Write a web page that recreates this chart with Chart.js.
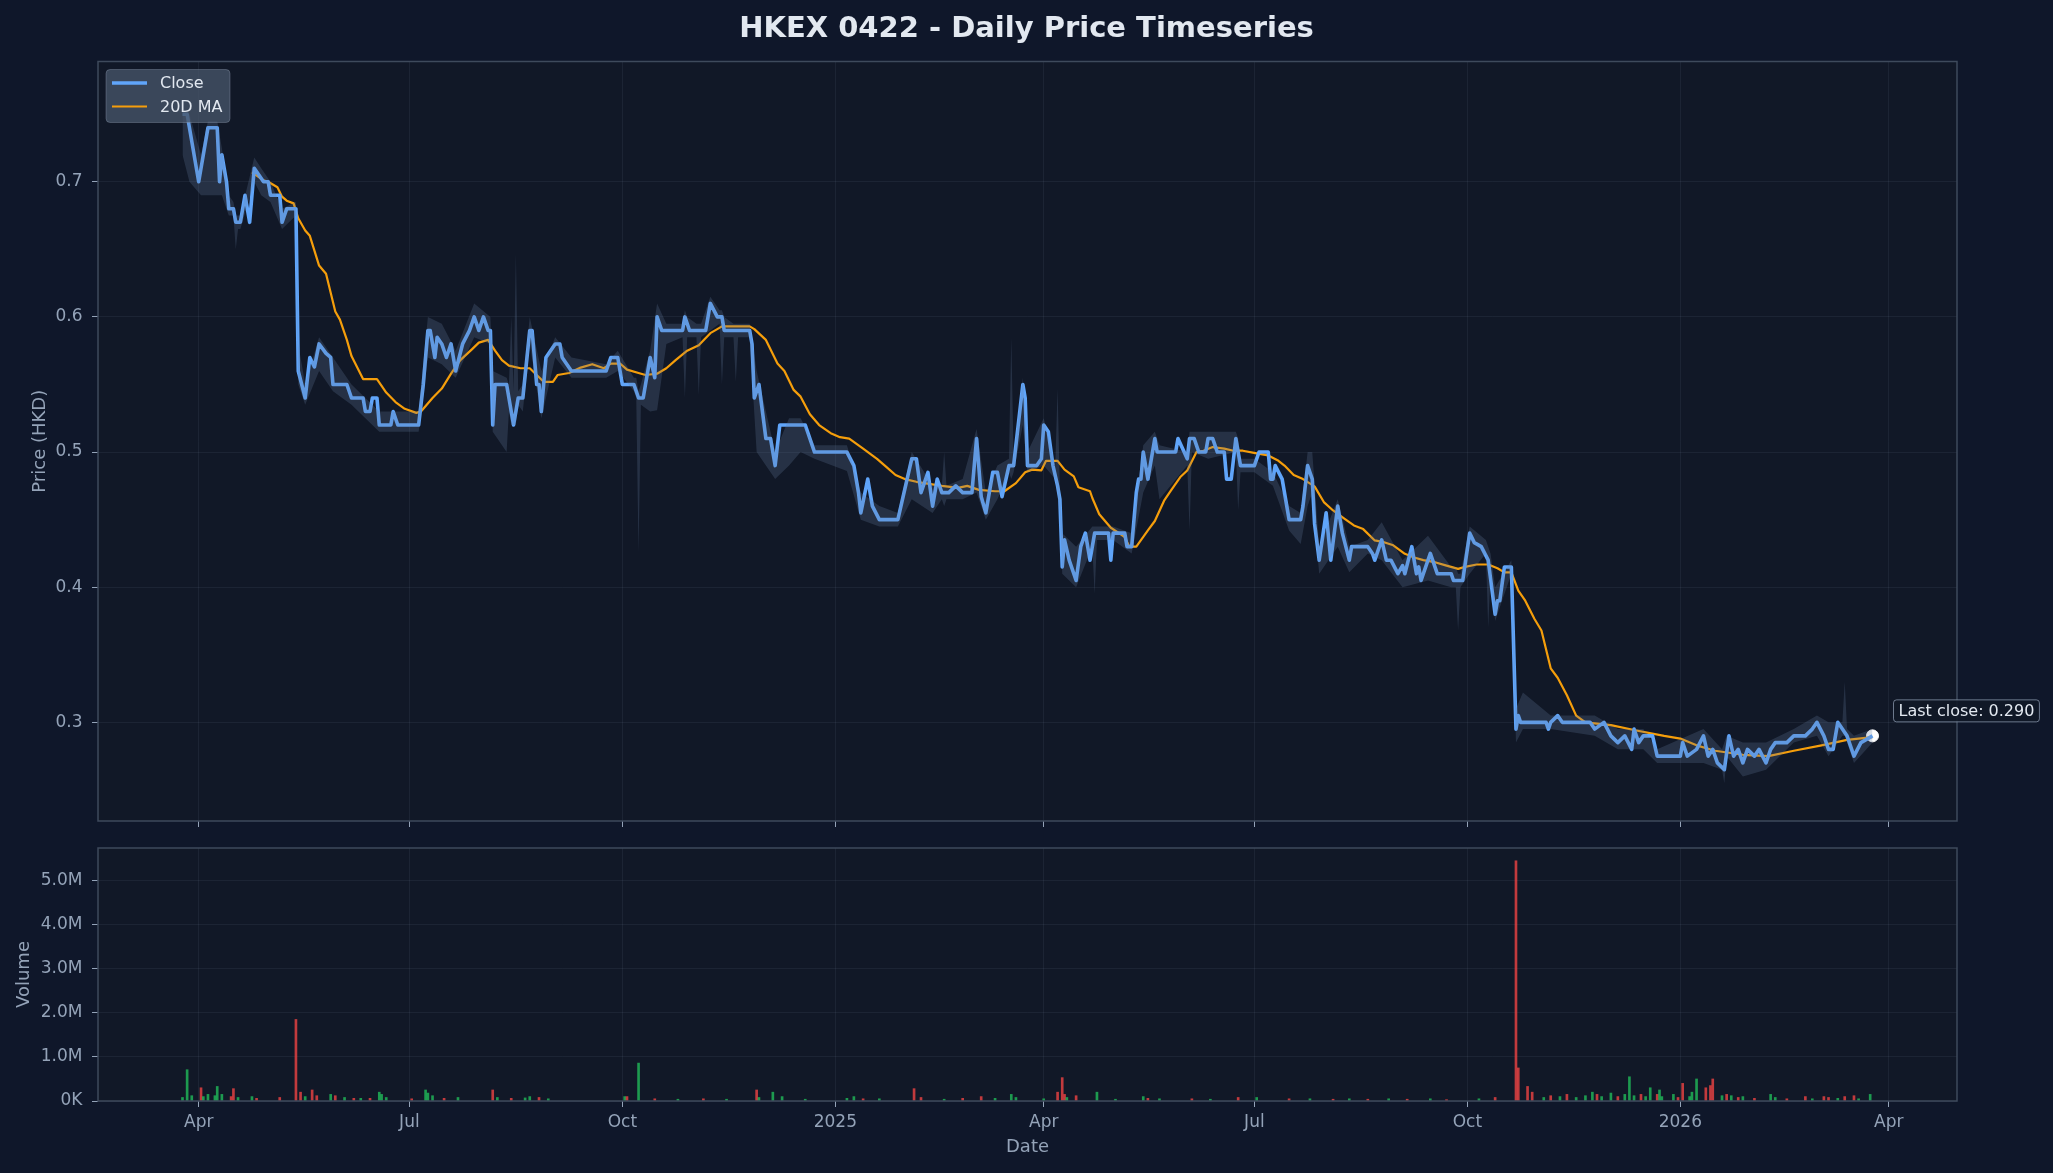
<!DOCTYPE html>
<html>
<head>
<meta charset="utf-8">
<title>HKEX 0422 - Daily Price Timeseries</title>
<script src="https://cdn.jsdelivr.net/npm/chart.js@4.4.1/dist/chart.umd.min.js"></script>
<style>
  html, body { margin: 0; padding: 0; background: #0f172a; }
  #wrap { position: relative; width: 2053px; height: 1173px; }
  canvas { position: absolute; left: 0; }
  #price { top: 0; }
  #volume { top: 835px; }
</style>
</head>
<body>
<div id="wrap">
  <canvas id="price" width="2053" height="835"></canvas>
  <canvas id="volume" width="2053" height="338"></canvas>
</div>
<script>
// close price, read at the corners of the line
const closeDates = [
  '2024-03-25','2024-03-27','2024-04-01','2024-04-05','2024-04-09','2024-04-10','2024-04-11','2024-04-13','2024-04-14','2024-04-16','2024-04-17','2024-04-19','2024-04-21','2024-04-23','2024-04-25','2024-04-27','2024-04-29',
  '2024-05-01','2024-05-02','2024-05-06','2024-05-07','2024-05-09','2024-05-13','2024-05-14','2024-05-17','2024-05-19','2024-05-21','2024-05-23','2024-05-26','2024-05-28','2024-05-29',
  '2024-06-04','2024-06-06','2024-06-11','2024-06-12','2024-06-14','2024-06-15','2024-06-17','2024-06-18','2024-06-23','2024-06-24','2024-06-26',
  '2024-07-05','2024-07-07','2024-07-09','2024-07-10','2024-07-12','2024-07-13','2024-07-15','2024-07-17','2024-07-19','2024-07-21','2024-07-24','2024-07-27','2024-07-29','2024-07-31',
  '2024-08-02','2024-08-04','2024-08-05','2024-08-06','2024-08-07','2024-08-12','2024-08-15','2024-08-17','2024-08-19','2024-08-22','2024-08-23','2024-08-25','2024-08-26','2024-08-27','2024-08-29',
  '2024-09-02','2024-09-04','2024-09-05','2024-09-09','2024-09-24','2024-09-26','2024-09-29',
  '2024-10-01','2024-10-06','2024-10-08','2024-10-10','2024-10-13','2024-10-15','2024-10-16','2024-10-18','2024-10-27','2024-10-28','2024-10-30',
  '2024-11-06','2024-11-08','2024-11-11','2024-11-13','2024-11-14','2024-11-25','2024-11-26','2024-11-27','2024-11-29',
  '2024-12-02','2024-12-04','2024-12-06','2024-12-08','2024-12-19','2024-12-23',
  '2025-01-06','2025-01-09','2025-01-11','2025-01-12','2025-01-15','2025-01-17','2025-01-20','2025-01-28',
  '2025-02-01','2025-02-03','2025-02-05','2025-02-07','2025-02-10','2025-02-12','2025-02-14','2025-02-16','2025-02-19','2025-02-22','2025-02-25',
  '2025-03-01','2025-03-03','2025-03-05','2025-03-07','2025-03-10','2025-03-12','2025-03-14','2025-03-17','2025-03-19','2025-03-23','2025-03-24','2025-03-25','2025-03-29','2025-03-31',
  '2025-04-01','2025-04-03','2025-04-05','2025-04-07','2025-04-08','2025-04-09','2025-04-10','2025-04-12','2025-04-15','2025-04-17','2025-04-19','2025-04-21','2025-04-23','2025-04-29','2025-04-30',
  '2025-05-01','2025-05-06','2025-05-07','2025-05-09','2025-05-11','2025-05-12','2025-05-13','2025-05-14','2025-05-16','2025-05-19','2025-05-20','2025-05-28','2025-05-29',
  '2025-06-02','2025-06-03','2025-06-05','2025-06-07','2025-06-10','2025-06-11','2025-06-13','2025-06-15','2025-06-18','2025-06-19','2025-06-21','2025-06-23','2025-06-25',
  '2025-07-01','2025-07-03','2025-07-07','2025-07-08','2025-07-09','2025-07-10','2025-07-13','2025-07-16','2025-07-21','2025-07-22','2025-07-24','2025-07-26','2025-07-27','2025-07-29',
  '2025-08-01','2025-08-03','2025-08-06','2025-08-08','2025-08-11','2025-08-12','2025-08-19','2025-08-21','2025-08-22','2025-08-25','2025-08-27','2025-08-29',
  '2025-09-01','2025-09-03','2025-09-04','2025-09-07','2025-09-09','2025-09-10','2025-09-11','2025-09-15','2025-09-18','2025-09-24','2025-09-25','2025-09-29',
  '2025-10-02','2025-10-04','2025-10-07','2025-10-10','2025-10-13','2025-10-14','2025-10-15','2025-10-17','2025-10-20','2025-10-22','2025-10-23','2025-10-24',
  '2025-11-04','2025-11-05','2025-11-06','2025-11-09','2025-11-11','2025-11-23','2025-11-25','2025-11-29',
  '2025-12-02','2025-12-05','2025-12-08','2025-12-11','2025-12-12','2025-12-14','2025-12-16','2025-12-20','2025-12-22',
  '2026-01-01','2026-01-02','2026-01-04','2026-01-08','2026-01-11','2026-01-13','2026-01-15','2026-01-17','2026-01-20','2026-01-22','2026-01-24','2026-01-26','2026-01-28','2026-01-30',
  '2026-02-02','2026-02-04','2026-02-07','2026-02-09','2026-02-11','2026-02-16','2026-02-19','2026-02-24','2026-02-27',
  '2026-03-01','2026-03-04','2026-03-06','2026-03-08','2026-03-10','2026-03-12','2026-03-14','2026-03-17','2026-03-20','2026-03-25'
];
const closeValues = [
  0.75,0.75,0.70,0.74,0.74,0.70,0.72,0.70,0.68,0.68,0.67,0.67,0.69,0.67,0.71,0.705,0.70,
  0.70,0.69,0.69,0.67,0.68,0.68,0.56,0.54,0.57,0.563,0.58,0.573,0.57,0.55,
  0.55,0.54,0.54,0.53,0.53,0.54,0.54,0.52,0.52,0.53,0.52,
  0.52,0.55,0.59,0.59,0.57,0.585,0.58,0.57,0.58,0.56,0.58,0.59,0.60,0.59,
  0.60,0.59,0.59,0.52,0.55,0.55,0.52,0.54,0.54,0.59,0.59,0.55,0.55,0.53,0.57,
  0.58,0.58,0.57,0.56,0.56,0.57,0.57,
  0.55,0.55,0.54,0.54,0.57,0.555,0.60,0.59,0.59,0.60,0.59,
  0.59,0.61,0.60,0.60,0.59,0.59,0.58,0.54,0.55,
  0.51,0.51,0.49,0.52,0.52,0.50,
  0.50,0.49,0.47,0.455,0.48,0.46,0.45,0.45,
  0.48,0.495,0.495,0.47,0.485,0.46,0.48,0.47,0.47,0.475,0.47,
  0.47,0.51,0.467,0.455,0.485,0.485,0.467,0.49,0.49,0.55,0.54,0.49,0.49,0.495,
  0.52,0.515,0.49,0.475,0.465,0.415,0.435,0.42,0.405,0.43,0.44,0.42,0.44,0.44,0.42,
  0.44,0.44,0.43,0.43,0.47,0.48,0.48,0.50,0.48,0.51,0.50,0.50,0.51,
  0.495,0.51,0.51,0.50,0.50,0.51,0.51,0.50,0.50,0.48,0.48,0.51,0.49,
  0.49,0.50,0.50,0.48,0.48,0.49,0.48,0.45,0.45,0.46,0.49,0.48,0.447,0.42,
  0.455,0.42,0.46,0.44,0.42,0.43,0.43,0.425,0.42,0.435,0.42,0.42,
  0.41,0.416,0.41,0.43,0.41,0.415,0.405,0.425,0.41,0.41,0.405,0.405,
  0.44,0.433,0.43,0.42,0.38,0.39,0.39,0.415,0.415,0.295,0.305,0.30,
  0.30,0.295,0.30,0.305,0.30,0.30,0.295,0.30,
  0.29,0.285,0.29,0.28,0.295,0.285,0.29,0.29,0.275,
  0.275,0.285,0.275,0.28,0.29,0.275,0.28,0.27,0.265,0.29,0.275,0.28,0.27,0.28,
  0.275,0.28,0.27,0.28,0.285,0.285,0.29,0.29,0.295,
  0.30,0.29,0.28,0.28,0.30,0.295,0.29,0.275,0.285,0.29
];

// 20-day moving average
const maDates = [
  '2024-04-24','2024-04-29','2024-05-01','2024-05-05','2024-05-07','2024-05-09','2024-05-12','2024-05-14','2024-05-17','2024-05-19','2024-05-23','2024-05-26','2024-05-30',
  '2024-06-01','2024-06-04','2024-06-06','2024-06-11','2024-06-17','2024-06-21','2024-06-25','2024-06-29',
  '2024-07-04','2024-07-06','2024-07-11','2024-07-15','2024-07-19','2024-07-23','2024-07-28','2024-07-31',
  '2024-08-04','2024-08-07','2024-08-10','2024-08-13','2024-08-18','2024-08-22','2024-08-25','2024-08-28',
  '2024-09-01','2024-09-03','2024-09-08','2024-09-13','2024-09-18','2024-09-23','2024-09-26','2024-09-30',
  '2024-10-03','2024-10-08','2024-10-11','2024-10-16','2024-10-20','2024-10-24','2024-10-29',
  '2024-11-03','2024-11-08','2024-11-11','2024-11-13','2024-11-25','2024-11-27',
  '2024-12-02','2024-12-07','2024-12-10','2024-12-14','2024-12-17','2024-12-21','2024-12-25','2024-12-30',
  '2025-01-03','2025-01-07','2025-01-13','2025-01-19','2025-01-23','2025-01-27','2025-01-31',
  '2025-02-05','2025-02-16','2025-02-23','2025-02-27',
  '2025-03-04','2025-03-11','2025-03-15','2025-03-20','2025-03-24','2025-03-27','2025-03-31',
  '2025-04-02','2025-04-07','2025-04-10','2025-04-14','2025-04-16','2025-04-21','2025-04-22','2025-04-25','2025-04-30',
  '2025-05-04','2025-05-06','2025-05-08','2025-05-11','2025-05-16','2025-05-19','2025-05-23','2025-05-26','2025-05-30',
  '2025-06-02','2025-06-06','2025-06-09','2025-06-13','2025-06-18','2025-06-22','2025-06-26',
  '2025-07-02','2025-07-07','2025-07-11','2025-07-14','2025-07-18','2025-07-22','2025-07-27','2025-07-31',
  '2025-08-04','2025-08-09','2025-08-13','2025-08-17','2025-08-22','2025-08-26','2025-08-30',
  '2025-09-04','2025-09-08','2025-09-12','2025-09-17','2025-09-22','2025-09-27','2025-09-30',
  '2025-10-05','2025-10-10','2025-10-14','2025-10-17','2025-10-20','2025-10-23','2025-10-26','2025-10-30',
  '2025-11-02','2025-11-06','2025-11-09','2025-11-13','2025-11-17','2025-11-21',
  '2025-12-02','2025-12-13','2025-12-25',
  '2026-01-01','2026-01-08','2026-01-16','2026-01-28','2026-02-08','2026-02-19','2026-03-03','2026-03-14','2026-03-25'
];
const maValues = [
  0.707,0.701,0.700,0.696,0.689,0.686,0.684,0.673,0.664,0.660,0.638,0.632,0.604,
  0.598,0.583,0.571,0.554,0.554,0.544,0.537,0.532,
  0.529,0.530,0.540,0.547,0.558,0.568,0.576,0.581,
  0.583,0.575,0.568,0.564,0.562,0.562,0.557,0.552,
  0.552,0.557,0.5585,0.5625,0.565,0.562,0.5655,0.5655,
  0.561,0.5585,0.557,0.558,0.562,0.568,0.575,
  0.579,0.588,0.591,0.593,0.593,0.591,
  0.583,0.5655,0.560,0.546,0.541,0.528,0.520,0.514,
  0.511,0.510,0.5025,0.495,0.489,0.483,0.480,
  0.478,0.475,0.4735,0.475,
  0.472,0.471,0.471,0.477,0.485,0.487,0.4865,
  0.4935,0.4935,0.487,0.482,0.474,0.471,0.466,0.454,0.444,
  0.4395,0.437,0.430,0.430,0.442,0.449,0.464,0.4716,0.4815,
  0.4864,0.500,0.501,0.5037,0.5025,0.501,0.501,
  0.499,0.4975,0.494,0.490,0.483,0.480,0.4746,0.463,
  0.4568,0.4506,0.4457,0.443,0.4346,0.4333,0.431,
  0.4247,0.422,0.420,0.4185,0.416,0.4136,0.415,
  0.4168,0.4168,0.414,0.411,0.411,0.3975,0.390,0.3765,
  0.368,0.340,0.333,0.320,0.305,0.300,
  0.298,0.294,0.290,
  0.288,0.283,0.279,0.276,0.275,0.279,0.283,0.287,0.289
];

// daily high / low envelope (shaded band)
const bandDates = [
  '2024-03-25','2024-03-28','2024-04-02','2024-04-05','2024-04-09','2024-04-11','2024-04-14','2024-04-16','2024-04-17','2024-04-18','2024-04-19','2024-04-25','2024-04-28',
  '2024-05-02','2024-05-07','2024-05-13','2024-05-14','2024-05-17','2024-05-23','2024-05-29',
  '2024-06-06','2024-06-12','2024-06-18','2024-06-26','2024-07-05','2024-07-09','2024-07-15','2024-07-21','2024-07-29',
  '2024-08-05','2024-08-06','2024-08-12','2024-08-13','2024-08-14','2024-08-15','2024-08-16','2024-08-17','2024-08-19','2024-08-22','2024-08-27',
  '2024-09-02','2024-09-09','2024-09-24','2024-09-29',
  '2024-10-06','2024-10-07','2024-10-08','2024-10-09','2024-10-13','2024-10-16','2024-10-20','2024-10-27','2024-10-28','2024-10-29',
  '2024-11-02','2024-11-03','2024-11-04','2024-11-08','2024-11-12','2024-11-13','2024-11-14','2024-11-18','2024-11-19','2024-11-20','2024-11-25','2024-11-28',
  '2024-12-06','2024-12-12','2024-12-17','2024-12-23',
  '2025-01-06','2025-01-12','2025-01-20','2025-01-28',
  '2025-02-03','2025-02-12','2025-02-16','2025-02-17','2025-02-18','2025-02-25',
  '2025-03-03','2025-03-07','2025-03-12','2025-03-17','2025-03-18','2025-03-19','2025-03-23','2025-03-25',
  '2025-04-01','2025-04-06','2025-04-07','2025-04-08','2025-04-09','2025-04-15','2025-04-22','2025-04-23','2025-04-24',
  '2025-05-01','2025-05-09','2025-05-14','2025-05-19','2025-05-21',
  '2025-06-02','2025-06-03','2025-06-04','2025-06-11','2025-06-23','2025-06-24','2025-06-25',
  '2025-07-01','2025-07-09','2025-07-16','2025-07-21','2025-07-24','2025-07-26','2025-07-29',
  '2025-08-06','2025-08-11','2025-08-19','2025-08-25',
  '2025-09-03','2025-09-14','2025-09-24','2025-09-26','2025-09-27','2025-09-28',
  '2025-10-02','2025-10-09','2025-10-10','2025-10-11','2025-10-13','2025-10-20','2025-10-22','2025-10-25',
  '2025-11-06','2025-11-25','2025-12-05','2025-12-16','2025-12-22',
  '2026-01-11','2026-01-19','2026-01-20','2026-01-21','2026-01-28','2026-02-07','2026-02-19',
  '2026-03-01','2026-03-06','2026-03-12','2026-03-13','2026-03-14','2026-03-17','2026-03-25'
];
const bandHigh = [
  0.755,0.75,0.72,0.745,0.745,0.725,0.69,0.685,0.675,0.675,0.675,0.718,0.71,
  0.70,0.68,0.685,0.58,0.55,0.585,0.57,
  0.55,0.54,0.53,0.53,0.53,0.60,0.595,0.575,0.61,
  0.60,0.56,0.555,0.55,0.60,0.545,0.647,0.545,0.55,0.60,0.56,
  0.585,0.57,0.565,0.575,
  0.555,0.555,0.545,0.55,0.575,0.61,0.595,0.595,0.605,0.60,
  0.595,0.595,0.595,0.615,0.605,0.605,0.60,0.595,0.595,0.595,0.595,0.56,
  0.50,0.525,0.525,0.505,
  0.505,0.47,0.46,0.455,
  0.50,0.475,0.475,0.50,0.475,0.48,
  0.517,0.47,0.49,0.495,0.585,0.495,0.555,0.50,
  0.525,0.49,0.547,0.47,0.44,0.43,0.445,0.445,0.445,
  0.445,0.44,0.505,0.515,0.505,
  0.50,0.515,0.515,0.515,0.515,0.51,0.495,
  0.495,0.485,0.46,0.455,0.50,0.50,0.43,
  0.465,0.43,0.435,0.448,
  0.42,0.438,0.415,0.415,0.41,0.41,
  0.445,0.435,0.43,0.425,0.40,0.42,0.31,0.322,
  0.305,0.305,0.295,0.295,0.28,
  0.295,0.28,0.285,0.29,0.285,0.285,0.295,
  0.305,0.30,0.30,0.33,0.295,0.29,0.295
];
const bandLow = [
  0.72,0.70,0.69,0.69,0.69,0.69,0.675,0.675,0.65,0.665,0.665,0.70,0.69,
  0.685,0.665,0.675,0.55,0.535,0.56,0.545,
  0.535,0.525,0.515,0.515,0.515,0.57,0.565,0.555,0.585,
  0.58,0.515,0.50,0.53,0.52,0.52,0.52,0.535,0.53,0.58,0.525,
  0.57,0.555,0.555,0.56,
  0.545,0.54,0.425,0.535,0.53,0.531,0.58,0.585,0.54,0.585,
  0.585,0.542,0.585,0.59,0.595,0.55,0.585,0.585,0.552,0.585,0.585,0.50,
  0.48,0.49,0.50,0.495,
  0.486,0.45,0.445,0.445,
  0.465,0.455,0.465,0.46,0.465,0.465,
  0.47,0.45,0.465,0.485,0.48,0.485,0.52,0.485,
  0.49,0.48,0.47,0.455,0.41,0.40,0.43,0.395,0.435,
  0.435,0.425,0.47,0.49,0.465,
  0.49,0.442,0.50,0.495,0.50,0.457,0.485,
  0.485,0.475,0.442,0.432,0.46,0.47,0.41,
  0.43,0.411,0.425,0.42,
  0.40,0.405,0.40,0.40,0.368,0.40,
  0.41,0.425,0.37,0.41,0.375,0.41,0.285,0.295,
  0.295,0.29,0.28,0.28,0.27,
  0.27,0.265,0.255,0.275,0.26,0.265,0.285,
  0.29,0.275,0.29,0.29,0.285,0.27,0.285
];

// daily volume bars (shares) and whether the day closed up
const volDates = [
  '2024-03-25','2024-03-27','2024-03-29','2024-04-02','2024-04-03','2024-04-05','2024-04-08','2024-04-09','2024-04-11','2024-04-15','2024-04-16','2024-04-18','2024-04-24','2024-04-26',
  '2024-05-06','2024-05-13','2024-05-15','2024-05-17','2024-05-20','2024-05-22','2024-05-28','2024-05-30',
  '2024-06-03','2024-06-07','2024-06-10','2024-06-14','2024-06-18','2024-06-19','2024-06-21',
  '2024-07-02','2024-07-08','2024-07-09','2024-07-11','2024-07-16','2024-07-22',
  '2024-08-06','2024-08-08','2024-08-14','2024-08-20','2024-08-22','2024-08-26','2024-08-30',
  '2024-10-02','2024-10-03','2024-10-08','2024-10-15','2024-10-25','2024-11-05','2024-11-15','2024-11-28','2024-11-29',
  '2024-12-05','2024-12-09','2024-12-19',
  '2025-01-06','2025-01-09','2025-01-13','2025-01-20','2025-02-04','2025-02-07','2025-02-17','2025-02-25',
  '2025-03-05','2025-03-11','2025-03-18','2025-03-20',
  '2025-04-01','2025-04-07','2025-04-09','2025-04-10','2025-04-11','2025-04-15','2025-04-24',
  '2025-05-02','2025-05-14','2025-05-16','2025-05-21','2025-06-04','2025-06-12','2025-06-24',
  '2025-07-02','2025-07-16','2025-07-25','2025-08-04','2025-08-11','2025-08-19','2025-08-28',
  '2025-09-05','2025-09-15','2025-09-22','2025-10-06','2025-10-13','2025-10-22','2025-10-23','2025-10-27','2025-10-29',
  '2025-11-03','2025-11-06','2025-11-10','2025-11-13','2025-11-17','2025-11-21','2025-11-24','2025-11-26','2025-11-28',
  '2025-12-02','2025-12-05','2025-12-08','2025-12-10','2025-12-12','2025-12-15','2025-12-17','2025-12-19','2025-12-22','2025-12-23','2025-12-24','2025-12-29','2025-12-31',
  '2026-01-02','2026-01-05','2026-01-06','2026-01-08','2026-01-12','2026-01-14','2026-01-15','2026-01-19','2026-01-21','2026-01-23','2026-01-26','2026-01-28',
  '2026-02-02','2026-02-09','2026-02-11','2026-02-16','2026-02-24','2026-02-27',
  '2026-03-04','2026-03-06','2026-03-10','2026-03-13','2026-03-17','2026-03-19','2026-03-24'
];
const volValues = [
  80000,710000,120000,300000,100000,150000,120000,330000,150000,100000,280000,80000,100000,60000,
  80000,1850000,200000,100000,250000,120000,150000,120000,
  80000,60000,60000,60000,200000,150000,80000,
  50000,250000,180000,120000,60000,80000,
  250000,80000,60000,70000,100000,80000,50000,
  100000,100000,860000,50000,40000,50000,40000,250000,80000,
  200000,100000,40000,
  60000,100000,50000,50000,280000,80000,40000,60000,
  100000,60000,150000,80000,
  50000,200000,530000,150000,80000,120000,200000,
  40000,100000,60000,50000,50000,40000,80000,
  80000,50000,50000,40000,50000,40000,50000,
  40000,50000,30000,50000,80000,5450000,750000,330000,200000,
  80000,120000,100000,150000,80000,120000,200000,150000,100000,
  180000,100000,150000,550000,120000,150000,100000,300000,150000,250000,100000,150000,80000,
  400000,100000,200000,500000,300000,350000,500000,120000,150000,120000,80000,100000,
  60000,150000,80000,50000,100000,50000,
  100000,80000,60000,100000,120000,50000,150000
];
const volUp = [
  1,1,1,0,1,1,1,1,1,0,0,1,1,0,
  0,0,0,1,0,0,1,0,
  1,0,1,0,1,1,1,
  0,1,1,1,0,1,
  0,1,0,1,1,0,1,
  1,0,1,0,1,0,1,0,1,
  1,1,1,
  1,1,0,1,0,0,1,0,
  0,1,1,1,
  1,0,0,0,1,0,1,
  1,1,0,1,0,1,0,
  1,0,1,0,1,0,1,
  0,1,0,1,0,0,0,0,0,
  1,0,1,0,1,1,1,0,1,
  1,0,1,1,1,0,1,1,0,1,1,1,0,
  0,1,1,1,0,0,0,1,0,1,0,1,
  0,1,1,0,0,1,
  0,0,1,0,0,1,1
];

const tickDates = ['2024-04-01','2024-07-01','2024-10-01','2025-01-01','2025-04-01','2025-07-01','2025-10-01','2026-01-01','2026-04-01'];
const tickLabels = ['Apr','Jul','Oct','2025','Apr','Jul','Oct','2026','Apr'];
const priceTicks = [0.3, 0.4, 0.5, 0.6, 0.7];
const volumeTicks = [0, 1e6, 2e6, 3e6, 4e6, 5e6];

const day = s => Date.UTC(+s.slice(0, 4), +s.slice(5, 7) - 1, +s.slice(8, 10)) / 864e5;
const pts = (ds, vs) => ds.map((d, i) => ({ x: day(d), y: vs[i] }));

const x0 = day(closeDates[0]);
const x1 = day(closeDates[closeDates.length - 1]);
const xPad = (x1 - x0) * 0.05;
const lastClose = closeValues[closeValues.length - 1];

const C = {
  fig: '#0f172a', ax: '#111827', spine: '#3e4a5c', grid: 'rgba(148,163,184,0.09)',
  tick: '#94a3b8', text: '#e2e8f0', close: '#60a5fa', ma: '#f59e0b',
  band: 'rgba(100,125,160,0.26)', up: 'rgba(34,197,94,0.75)', down: 'rgba(239,68,68,0.8)'
};

Chart.defaults.font.family = "'DejaVu Sans', sans-serif";
Chart.defaults.color = C.tick;

const frame = {
  id: 'frame',
  beforeDraw(c) {
    const { ctx, chartArea: a } = c;
    ctx.save();
    ctx.fillStyle = C.fig;
    ctx.fillRect(0, 0, c.width, c.height);
    ctx.fillStyle = C.ax;
    ctx.fillRect(a.left, a.top, a.right - a.left, a.bottom - a.top);
    ctx.restore();
  },
  afterDraw(c) {
    const { ctx, chartArea: a } = c;
    ctx.save();
    ctx.strokeStyle = C.spine;
    ctx.lineWidth = 1.5;
    ctx.strokeRect(a.left, a.top, a.right - a.left, a.bottom - a.top);
    ctx.restore();
  }
};

function rrect(ctx, x, y, w, h, r) {
  ctx.beginPath();
  ctx.moveTo(x + r, y);
  ctx.arcTo(x + w, y, x + w, y + h, r);
  ctx.arcTo(x + w, y + h, x, y + h, r);
  ctx.arcTo(x, y + h, x, y, r);
  ctx.arcTo(x, y, x + w, y, r);
  ctx.closePath();
}

const legendBox = {
  id: 'legendBox',
  afterDraw(c) {
    const { ctx, chartArea: a } = c;
    const x = a.left + 8, y = a.top + 8;
    ctx.save();
    rrect(ctx, x, y, 124, 53, 4);
    ctx.fillStyle = 'rgba(71,85,105,0.78)';
    ctx.fill();
    ctx.strokeStyle = 'rgba(148,163,184,0.35)';
    ctx.lineWidth = 1;
    ctx.stroke();
    const rows = [['Close', C.close, 3.6], ['20D MA', C.ma, 2.2]];
    ctx.font = "16px 'DejaVu Sans'";
    ctx.textBaseline = 'middle';
    rows.forEach((r, i) => {
      const cy = y + 13.5 + i * 23.5;
      ctx.strokeStyle = r[1];
      ctx.lineWidth = r[2];
      ctx.beginPath();
      ctx.moveTo(x + 6, cy);
      ctx.lineTo(x + 41, cy);
      ctx.stroke();
      ctx.fillStyle = C.text;
      ctx.fillText(r[0], x + 54, cy + 1);
    });
    ctx.restore();
  }
};

const lastLabel = {
  id: 'lastLabel',
  afterDraw(c) {
    const p = c.getDatasetMeta(4).data[0];
    const ctx = c.ctx;
    const txt = 'Last close: ' + lastClose.toFixed(3);
    ctx.save();
    ctx.font = "16px 'DejaVu Sans'";
    const w = ctx.measureText(txt).width + 10, h = 22;
    const bx = p.x + 21, by = p.y - 25 - h / 2;
    rrect(ctx, bx, by, w, h, 3);
    ctx.fillStyle = 'rgba(17,24,39,0.9)';
    ctx.fill();
    ctx.strokeStyle = 'rgba(148,163,184,0.7)';
    ctx.lineWidth = 1;
    ctx.stroke();
    ctx.fillStyle = C.text;
    ctx.textBaseline = 'middle';
    ctx.fillText(txt, bx + 5, by + h / 2 + 1);
    ctx.restore();
  }
};

const xAxis = showLabels => ({
  type: 'linear',
  min: x0 - xPad,
  max: x1 + xPad,
  offset: false,
  afterBuildTicks: s => { s.ticks = tickDates.map(d => ({ value: day(d) })); },
  ticks: { display: showLabels, callback: (v, i) => tickLabels[i], font: { size: 17 }, padding: 5, maxRotation: 0, autoSkip: false, color: C.tick },
  grid: { color: C.grid, tickColor: C.tick, tickLength: 6, offset: false },
  border: { display: false }
});

const fixBox = (w, h) => s => {
  if (w != null) s.width = w;
  if (h != null) s.height = h;
  s.paddingTop = 0; s.paddingBottom = 0; s.paddingLeft = 0; s.paddingRight = 0;
};

new Chart(document.getElementById('price'), {
  type: 'line',
  data: {
    datasets: [
      { label: 'High', data: pts(bandDates, bandHigh), borderWidth: 0, pointRadius: 0, fill: '+1', backgroundColor: C.band },
      { label: 'Low', data: pts(bandDates, bandLow), borderWidth: 0, pointRadius: 0, fill: false },
      { label: 'Close', data: pts(closeDates, closeValues), borderColor: C.close, borderWidth: 3.6, pointRadius: 0, fill: false, borderJoinStyle: 'round' },
      { label: '20D MA', data: pts(maDates, maValues), borderColor: C.ma, borderWidth: 2.2, pointRadius: 0, fill: false, borderJoinStyle: 'round' },
      { label: 'Last', data: [{ x: x1, y: lastClose }], showLine: false, pointRadius: 6, pointBackgroundColor: '#ffffff', pointBorderColor: '#ffffff', clip: false }
    ]
  },
  options: {
    responsive: false,
    animation: false,
    layout: { padding: 0 },
    plugins: {
      legend: { display: false },
      tooltip: { enabled: false },
      title: {
        display: true, text: 'HKEX 0422 - Daily Price Timeseries', color: C.text,
        font: { size: 29, weight: 'bold' }, padding: { top: 11.6, bottom: 15.1 }
      }
    },
    scales: {
      x: { ...xAxis(false), afterFit: fixBox(null, 14) },
      y: {
        min: 0.227, max: 0.789,
        afterBuildTicks: s => { s.ticks = priceTicks.map(v => ({ value: v })); },
        ticks: { callback: v => v.toFixed(1), padding: 9.5, font: { size: 17 }, color: C.tick },
        grid: { color: C.grid, tickColor: C.tick, tickLength: 6 },
        border: { display: false },
        title: { display: true, text: 'Price (HKD)', color: C.tick, font: { size: 18 }, padding: { top: 29.6, bottom: 0 } },
        afterFit: fixBox(98, null)
      },
      yRight: {
        position: 'right', min: 0, max: 1,
        ticks: { display: false },
        grid: { display: false, drawTicks: false },
        border: { display: false },
        afterFit: fixBox(96, null)
      }
    }
  },
  plugins: [frame, legendBox, lastLabel]
});

new Chart(document.getElementById('volume'), {
  type: 'bar',
  data: {
    datasets: [{
      label: 'Volume',
      data: pts(volDates, volValues),
      backgroundColor: volUp.map(u => u ? C.up : C.down),
      barThickness: 2,
      grouped: false
    }]
  },
  options: {
    responsive: false,
    animation: false,
    layout: { padding: { left: 0, right: 96, top: 13, bottom: 0 } },
    plugins: { legend: { display: false }, tooltip: { enabled: false } },
    scales: {
      x: {
        ...xAxis(true),
        title: { display: true, text: 'Date', color: C.tick, font: { size: 18 }, padding: { top: 0, bottom: 14.6 } },
        afterFit: fixBox(null, 72)
      },
      y: {
        min: 0, max: 5.74e6,
        afterBuildTicks: s => { s.ticks = volumeTicks.map(v => ({ value: v })); },
        ticks: { callback: v => v === 0 ? '0K' : (v / 1e6).toFixed(1) + 'M', padding: 9.5, font: { size: 17 }, color: C.tick },
        grid: { color: C.grid, tickColor: C.tick, tickLength: 6 },
        border: { display: false },
        title: { display: true, text: 'Volume', color: C.tick, font: { size: 18 }, padding: { top: 13.2, bottom: 0 } },
        afterFit: fixBox(98, null)
      }
    }
  },
  plugins: [frame]
});
</script>
</body>
</html>
